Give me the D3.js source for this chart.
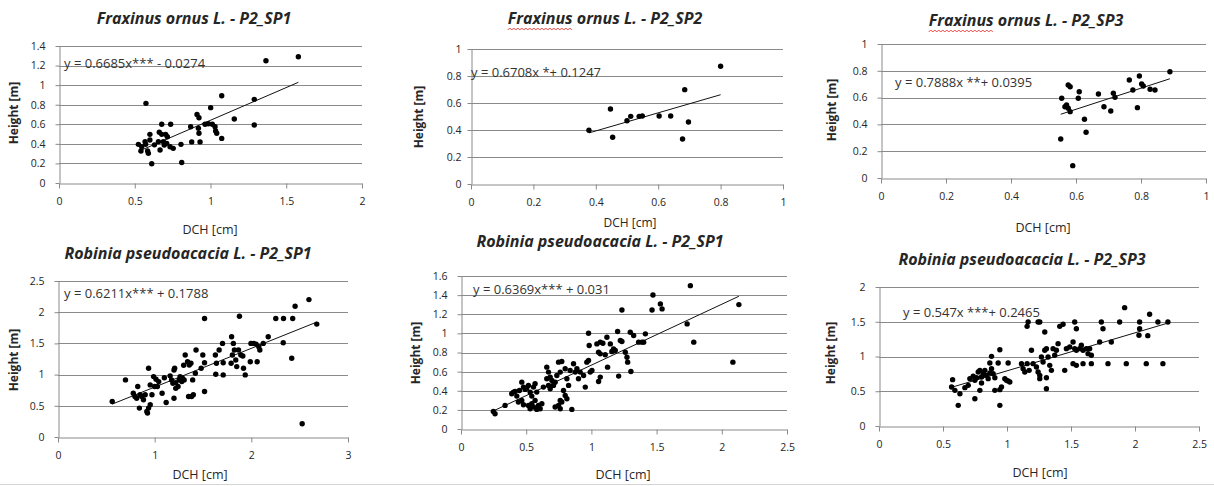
<!DOCTYPE html>
<html>
<head>
<meta charset="utf-8">
<script src="https://cdn.jsdelivr.net/npm/d3@7"></script>
<style>
  body { margin: 0; background: #fff; }
  svg { display: block; font-family: "Open Sans", Lato, sans-serif; }
</style>
</head>
<body>
<svg id="chart" width="1214" height="486"></svg>
<script>
// ---- data ([DCH cm, height m]) ----
const fraxSp1 = [
  [0.574, 0.814], [1.074, 0.892], [1.366, 1.25], [1.58, 1.29], [1.289, 0.855], [1.001, 0.77],
  [0.911, 0.70], [0.924, 0.667], [1.157, 0.654], [1.289, 0.592], [0.869, 0.575], [0.92, 0.56],
  [0.924, 0.508], [0.931, 0.42], [0.876, 0.42], [0.964, 0.6], [0.986, 0.606], [1.012, 0.6],
  [1.03, 0.575], [1.034, 0.531], [1.041, 0.508], [1.074, 0.456], [0.805, 0.395], [0.81, 0.21],
  [0.612, 0.197], [0.678, 0.6], [0.737, 0.6], [0.60, 0.497], [0.662, 0.518], [0.678, 0.497],
  [0.704, 0.497], [0.715, 0.473], [0.524, 0.395], [0.546, 0.371], [0.541, 0.327], [0.572, 0.395],
  [0.585, 0.327], [0.59, 0.303], [0.568, 0.422], [0.656, 0.422], [0.689, 0.422], [0.711, 0.405],
  [0.695, 0.388], [0.733, 0.371], [0.754, 0.354], [0.667, 0.337], [0.60, 0.44], [0.63, 0.39]
];
const fraxSp2 = [
  [0.378, 0.398], [0.447, 0.556], [0.454, 0.346], [0.50, 0.469], [0.512, 0.501], [0.539, 0.501],
  [0.549, 0.504], [0.603, 0.504], [0.640, 0.504], [0.678, 0.333], [0.685, 0.699], [0.697, 0.459],
  [0.80, 0.872]
];
const fraxSp3 = [
  [0.889, 0.793], [0.764, 0.731], [0.795, 0.761], [0.576, 0.694], [0.582, 0.681], [0.61, 0.644],
  [0.669, 0.627], [0.775, 0.657], [0.802, 0.701], [0.807, 0.687], [0.828, 0.662], [0.843, 0.657],
  [0.556, 0.595], [0.607, 0.595], [0.715, 0.632], [0.72, 0.602], [0.571, 0.545], [0.576, 0.52],
  [0.582, 0.495], [0.566, 0.532], [0.686, 0.532], [0.707, 0.50], [0.789, 0.525], [0.626, 0.438],
  [0.631, 0.341], [0.553, 0.291], [0.59, 0.092]
];
const robSp1 = [
  [0.561, 0.569], [0.698, 0.915], [0.937, 1.101], [0.825, 0.809], [0.779, 0.702], [0.796, 0.649],
  [0.849, 0.676], [0.867, 0.649], [0.814, 0.622], [0.902, 0.676], [0.884, 0.596], [0.842, 0.463],
  [0.919, 0.41], [0.937, 0.463], [0.954, 0.516], [0.926, 0.383], [0.972, 0.676], [0.954, 0.835],
  [0.989, 0.968], [1.014, 0.926], [1.042, 0.888], [1.0, 0.809], [1.028, 0.809], [1.077, 0.702],
  [1.119, 0.553], [1.207, 1.101], [1.2, 1.074], [1.189, 0.862], [1.218, 0.872], [1.175, 0.915],
  [1.2, 0.622], [1.316, 1.314], [1.263, 0.968], [1.288, 0.941], [1.305, 0.915], [1.281, 0.888],
  [1.253, 0.915], [1.242, 0.809], [1.34, 1.207], [1.358, 1.154], [1.375, 1.181], [1.393, 0.915],
  [1.382, 0.649], [1.4, 0.676], [1.421, 1.021], [1.428, 1.394], [1.498, 1.314], [1.516, 1.191],
  [1.516, 0.729], [1.516, 1.899], [1.481, 1.101], [1.628, 1.314], [1.639, 1.181], [1.632, 1.005],
  [1.667, 1.394], [1.702, 1.5], [1.709, 1.191], [1.709, 0.995], [1.796, 1.606], [1.814, 1.5],
  [1.825, 1.394], [1.804, 1.314], [1.839, 1.234], [1.791, 1.181], [1.849, 1.128], [1.877, 1.936],
  [1.867, 1.394], [1.891, 1.314], [1.912, 1.298], [1.919, 1.101], [1.937, 0.995], [1.996, 1.5],
  [2.025, 1.5], [2.049, 1.489], [1.989, 1.207], [2.06, 1.207], [2.077, 1.447], [2.088, 1.394],
  [2.175, 1.606], [2.123, 1.5], [2.253, 1.899], [2.333, 1.899], [2.428, 1.899], [2.33, 1.511],
  [2.453, 2.096], [2.596, 2.202], [2.677, 1.809], [2.418, 1.261], [2.526, 0.213], [1.351, 0.649],
  [1.218, 0.78], [1.1, 0.95], [1.3, 1.15], [1.16, 0.98]
];
const robSp2 = [
  [0.248, 0.184], [0.261, 0.16], [0.338, 0.247], [0.389, 0.369], [0.402, 0.386], [0.415, 0.393],
  [0.428, 0.344], [0.448, 0.403], [0.466, 0.49], [0.479, 0.438], [0.492, 0.414], [0.504, 0.428],
  [0.517, 0.456], [0.530, 0.386], [0.543, 0.344], [0.556, 0.438], [0.568, 0.473], [0.581, 0.386],
  [0.44, 0.282], [0.466, 0.299], [0.479, 0.254], [0.517, 0.247], [0.53, 0.212], [0.543, 0.264],
  [0.556, 0.23], [0.581, 0.205], [0.594, 0.247], [0.607, 0.212], [0.62, 0.264], [0.568, 0.299],
  [0.658, 0.647], [0.671, 0.595], [0.684, 0.543], [0.697, 0.508], [0.671, 0.456], [0.709, 0.456],
  [0.722, 0.49], [0.735, 0.56], [0.748, 0.699], [0.773, 0.706], [0.761, 0.595], [0.799, 0.63],
  [0.812, 0.525], [0.825, 0.456], [0.786, 0.403], [0.799, 0.351], [0.761, 0.299], [0.773, 0.282],
  [0.748, 0.247], [0.722, 0.23], [0.761, 0.212], [0.85, 0.205], [0.812, 0.317], [0.837, 0.612],
  [0.863, 0.682], [0.876, 0.595], [0.889, 0.63], [0.914, 0.595], [0.901, 0.525], [0.94, 0.56],
  [0.953, 0.438], [0.965, 0.699], [0.978, 0.717], [0.991, 0.595], [1.004, 0.612], [0.978, 1.002],
  [0.983, 0.873], [1.042, 0.89], [1.068, 0.908], [1.088, 0.897], [1.119, 0.96], [1.145, 0.89],
  [1.055, 0.803], [1.068, 0.786], [1.106, 0.776], [1.157, 0.81], [1.17, 0.838], [1.183, 0.821],
  [1.201, 1.019], [1.222, 0.925], [1.234, 0.915], [1.26, 0.803], [1.273, 0.751], [1.278, 0.699],
  [1.298, 1.012], [1.324, 0.977], [1.362, 0.908], [1.388, 0.908], [1.414, 0.995], [1.401, 0.908],
  [1.124, 0.647], [1.209, 0.553], [1.303, 0.602], [1.068, 0.543], [1.055, 0.497], [1.234, 1.245],
  [1.465, 1.245], [1.472, 1.402], [1.529, 1.308], [1.542, 1.256], [1.734, 1.099], [1.759, 1.499],
  [1.785, 0.908], [2.085, 0.699], [2.131, 1.301], [0.658, 0.525], [0.684, 0.421], [0.632, 0.438]
];
const robSp3 = [
  [0.575, 0.667], [0.567, 0.561], [0.593, 0.513], [0.632, 0.465], [0.619, 0.297], [0.671, 0.552],
  [0.697, 0.585], [0.71, 0.681], [0.736, 0.715], [0.749, 0.657], [0.762, 0.695], [0.775, 0.777],
  [0.788, 0.801], [0.801, 0.705], [0.814, 0.753], [0.827, 0.801], [0.84, 0.729], [0.853, 0.681],
  [0.866, 0.763], [0.879, 0.825], [0.892, 0.753], [0.905, 0.695], [0.866, 0.906], [0.879, 1.002],
  [0.944, 1.098], [0.931, 0.906], [1.009, 0.906], [0.983, 0.681], [1.009, 0.647], [0.957, 0.561],
  [0.944, 0.523], [0.905, 0.513], [0.788, 0.513], [0.749, 0.393], [0.944, 0.297], [0.996, 0.657],
  [1.022, 0.633], [0.801, 0.619], [1.113, 0.897], [1.126, 0.825], [1.139, 0.777], [1.157, 0.897],
  [1.173, 0.801], [1.191, 1.089], [1.204, 0.897], [1.23, 0.849], [1.243, 0.777], [1.256, 0.729],
  [1.256, 0.681], [1.269, 0.993], [1.282, 0.921], [1.295, 1.089], [1.308, 1.113], [1.321, 0.993],
  [1.334, 0.873], [1.347, 0.801], [1.36, 1.113], [1.373, 1.017], [1.386, 1.089], [1.399, 1.185],
  [1.451, 0.801], [1.464, 1.113], [1.49, 1.137], [1.516, 1.209], [1.529, 1.113], [1.542, 1.089],
  [1.568, 1.113], [1.581, 1.161], [1.594, 1.089], [1.62, 1.113], [1.633, 1.041], [1.646, 1.113],
  [1.659, 1.017], [1.516, 0.897], [1.542, 0.873], [1.594, 0.897], [1.659, 0.897], [1.308, 0.537],
  [1.308, 0.695], [1.157, 1.434], [1.165, 1.496], [1.243, 1.496], [1.256, 1.496], [1.295, 1.353],
  [1.412, 1.434], [1.438, 1.463], [1.529, 1.496], [1.542, 1.4], [1.737, 1.496], [1.724, 1.209],
  [1.789, 0.897], [1.815, 1.209], [1.88, 1.496], [1.919, 1.703], [1.932, 0.897], [2.036, 1.496],
  [2.036, 1.4], [2.031, 1.305], [2.088, 0.897], [2.114, 1.607], [2.179, 1.496], [2.218, 0.897],
  [2.257, 1.496], [2.1, 1.3], [1.75, 1.4]
];

const titles = [
  'Fraxinus ornus L. - P2_SP1', 'Fraxinus ornus L. - P2_SP2', 'Fraxinus ornus L. - P2_SP3',
  'Robinia pseudoacacia L. - P2_SP1', 'Robinia pseudoacacia L. - P2_SP1', 'Robinia pseudoacacia L. - P2_SP3'
];
const equations = [
  'y = 0.6685x*** - 0.0274', 'y = 0.6708x *+ 0.1247', 'y = 0.7888x **+ 0.0395',
  'y = 0.6211x*** + 0.1788', 'y = 0.6369x*** + 0.031', 'y = 0.547x ***+ 0.2465'
];
const slopes = [0.6685, 0.6708, 0.7888, 0.6211, 0.6369, 0.547];
const intercepts = [-0.0274, 0.1247, 0.0395, 0.1788, 0.031, 0.2465];
const xTicks = [
  [0, 0.5, 1, 1.5, 2], [0, 0.2, 0.4, 0.6, 0.8, 1], [0, 0.2, 0.4, 0.6, 0.8, 1],
  [0, 1, 2, 3], [0, 0.5, 1, 1.5, 2, 2.5], [0, 0.5, 1, 1.5, 2, 2.5]
];
const yTicks = [
  [0, 0.2, 0.4, 0.6, 0.8, 1, 1.2, 1.4], [0, 0.2, 0.4, 0.6, 0.8, 1], [0, 0.2, 0.4, 0.6, 0.8, 1],
  [0, 0.5, 1, 1.5, 2, 2.5], [0, 0.2, 0.4, 0.6, 0.8, 1, 1.2, 1.4, 1.6], [0, 0.5, 1, 1.5, 2]
];
const series = [fraxSp1, fraxSp2, fraxSp3, robSp1, robSp2, robSp3];

// ---- layout (pixel boxes of each plot area, label spots) ----
const layout = [
  { l: 59, r: 362, b: 183, t: 46, title: [194, 24], eq: [64, 68], yt: [14, 113], xt: [210, 234], wavy: false },
  { l: 471, r: 783, b: 184, t: 49, title: [605, 24], eq: [471, 77], yt: [419, 117], xt: [630, 227], wavy: true },
  { l: 881, r: 1206, b: 178, t: 44, title: [1026, 26], eq: [895, 87], yt: [832, 110], xt: [1043, 232], wavy: true },
  { l: 58, r: 348, b: 437, t: 281, title: [188, 259], eq: [64, 298], yt: [14, 360], xt: [200, 479], wavy: false },
  { l: 461, r: 787, b: 429, t: 276, title: [600, 247], eq: [473, 294], yt: [416, 353], xt: [623, 479], wavy: false },
  { l: 879, r: 1199, b: 426, t: 287, title: [1022, 265], eq: [903, 317], yt: [831, 353], xt: [1040, 477], wavy: false }
];

const gridColor = '#8a8a8a';
const textColor = '#262626';
const svg = d3.select('#chart');

// thin border at the foot of the picture
svg.append('line')
  .attr('x1', 0).attr('x2', 1214).attr('y1', 484.5).attr('y2', 484.5)
  .attr('stroke', '#d4d4d4');

series.forEach((data, i) => {
  const box = layout[i];
  const xMax = d3.max(xTicks[i]);
  const yMax = d3.max(yTicks[i]);
  const x = d3.scaleLinear().domain([0, xMax]).range([box.l, box.r]);
  const y = d3.scaleLinear().domain([0, yMax]).range([box.b, box.t]);
  const g = svg.append('g');

  // horizontal gridlines
  g.selectAll('line.grid')
    .data(yTicks[i].filter((d) => d > 0))
    .join('line')
    .attr('class', 'grid')
    .attr('x1', box.l).attr('x2', box.r)
    .attr('y1', (d) => Math.round(y(d)) + 0.5)
    .attr('y2', (d) => Math.round(y(d)) + 0.5)
    .attr('stroke', gridColor);

  const xAxis = g.append('g')
    .attr('transform', `translate(0,${Math.round(y(0)) + 0.5})`)
    .call(d3.axisBottom(x).tickValues(xTicks[i]).tickSize(5).tickSizeOuter(0)
      .tickPadding(9).tickFormat((d) => String(d)));
  const yAxis = g.append('g')
    .attr('transform', `translate(${Math.round(x(0)) + 0.5},0)`)
    .call(d3.axisLeft(y).tickValues(yTicks[i]).tickSize(4).tickSizeOuter(0)
      .tickPadding(i === 1 ? 6 : 10).tickFormat((d) => String(d)));
  [xAxis, yAxis].forEach((a) => {
    a.selectAll('path, line').attr('stroke', gridColor);
    a.selectAll('text').attr('fill', textColor).attr('font-size', 10.5)
      .attr('font-family', '"Open Sans", sans-serif');
  });

  // trend line over the observed DCH range
  const ext = d3.extent(data, (d) => d[0]);
  g.append('line')
    .attr('x1', x(ext[0])).attr('y1', y(slopes[i] * ext[0] + intercepts[i]))
    .attr('x2', x(ext[1])).attr('y2', y(slopes[i] * ext[1] + intercepts[i]))
    .attr('stroke', '#111').attr('stroke-width', 1);

  g.selectAll('circle')
    .data(data)
    .join('circle')
    .attr('cx', (d) => x(d[0]))
    .attr('cy', (d) => y(d[1]))
    .attr('r', 2.7)
    .attr('fill', '#000');

  g.append('text')
    .attr('x', box.eq[0]).attr('y', box.eq[1])
    .attr('font-size', 13).attr('fill', '#333')
    .text(equations[i]);

  const title = g.append('text')
    .attr('x', box.title[0]).attr('y', box.title[1])
    .attr('text-anchor', 'middle')
    .attr('font-size', 16).attr('font-weight', 'bold').attr('font-style', 'italic')
    .attr('fill', textColor)
    .text(titles[i]);

  if (box.wavy) {
    // spell-check squiggle under "Fraxinus"
    const x0 = title.node().getBBox().x;
    const w = title.node().getSubStringLength(0, 8);
    const pts = d3.range(0, Math.floor(w / 2) + 1).map((k) => [x0 + k * 2, box.title[1] + 5 + (k % 2 ? -1 : 1)]);
    g.append('path')
      .attr('d', d3.line()(pts))
      .attr('fill', 'none').attr('stroke', '#e8322c').attr('stroke-width', 0.9);
  }

  g.append('text')
    .attr('transform', `translate(${box.yt[0]},${box.yt[1]}) rotate(-90)`)
    .attr('text-anchor', 'middle').attr('dy', '0.35em')
    .attr('font-size', 12).attr('font-weight', 'bold').attr('fill', textColor)
    .text('Height [m]');

  g.append('text')
    .attr('x', box.xt[0]).attr('y', box.xt[1])
    .attr('text-anchor', 'middle')
    .attr('font-size', i === 1 ? 12 : 12.5).attr('fill', textColor)
    .text('DCH [cm]');
});
</script>
</body>
</html>
